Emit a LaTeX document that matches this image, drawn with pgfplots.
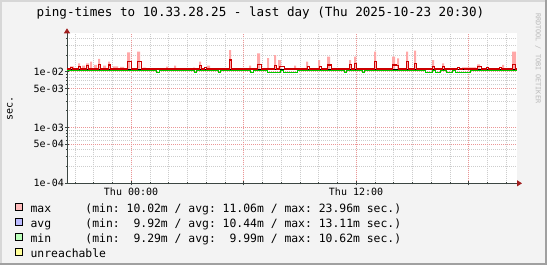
\documentclass[border=0pt]{standalone}
\usepackage{fontspec}
\setmainfont{DejaVu Sans Mono}
\setmonofont{DejaVu Sans Mono}
\usepackage{pgfplots}
\pgfplotsset{compat=1.18}
\usepackage{pgfplotstable}
\usetikzlibrary{arrows.meta}

\definecolor{bgcol}{RGB}{243,243,243}
\definecolor{shadea}{RGB}{215,215,215}
\definecolor{shadeb}{RGB}{160,160,160}
\definecolor{axiscol}{RGB}{60,70,66}
\definecolor{arrowcol}{RGB}{160,30,30}
\definecolor{gridcol}{RGB}{205,205,205}
\definecolor{mgridcol}{RGB}{235,150,150}
\definecolor{pinkcol}{RGB}{255,168,168}
\definecolor{redcol}{RGB}{204,0,0}
\definecolor{greencol}{RGB}{0,200,0}
\definecolor{maxleg}{RGB}{255,187,187}
\definecolor{avgleg}{RGB}{187,187,255}
\definecolor{minleg}{RGB}{187,255,187}
\definecolor{unrleg}{RGB}{255,255,153}

% max (pink spikes)
\pgfplotstableread{
x y
-3.4167 0.0112
-3.2533 0.0125
-3.04 0.0112
-2.8267 0.0141
-2.72 0.0112
-2.6133 0.0128
-2.4533 0.0112
-2.4 0.0141
-2.24 0.0112
-2.1867 0.0151
-2.08 0.0112
-1.9733 0.0132
-1.8133 0.0112
-1.76 0.0169
-1.6533 0.0112
-1.4933 0.0128
-1.3333 0.0112
-1.2267 0.0151
-1.12 0.0112
-0.96 0.0125
-0.6933 0.0112
-0.5867 0.0122
-0.3733 0.0112
-0.2133 0.0223
-0.0533 0.0112
0.32 0.0228
0.48 0.0112
0.64 0.0118
0.8 0.0112
1.8667 0.0123
1.9733 0.0112
2.2933 0.0128
2.4 0.0112
3.3067 0.0118
3.4133 0.0112
3.6267 0.0151
3.7333 0.0112
4.0533 0.0128
4.2133 0.0112
5.2267 0.0245
5.3333 0.0112
6.2933 0.0128
6.4 0.0112
6.72 0.0214
6.88 0.0112
7.2533 0.0176
7.36 0.0112
7.6267 0.0199
7.7333 0.0112
7.84 0.0162
8.0 0.0112
8.6933 0.0128
8.8 0.0112
9.3333 0.0151
9.44 0.0112
9.9733 0.0162
10.08 0.0112
10.4533 0.0186
10.6133 0.0112
11.6267 0.0162
11.7333 0.0112
11.8933 0.0186
12.0 0.0112
12.96 0.0228
13.0667 0.0112
13.92 0.0186
14.08 0.0112
14.1867 0.0174
14.2933 0.0112
14.6667 0.0228
14.7733 0.0112
15.0933 0.0240
15.2 0.0112
16.0533 0.0162
16.16 0.0112
16.5867 0.0141
16.6933 0.0112
17.6533 0.0120
18.4 0.0112
18.4533 0.0136
18.6133 0.0112
19.7867 0.0132
19.8933 0.0112
20.32 0.0228
20.5333 0.0112
20.5833 0.0112
}\maxdata

% dark red spikes
\pgfplotstableread{
x y
-3.4167 0.0112
-3.2533 0.0120
-3.1467 0.0112
-2.8267 0.0123
-2.72 0.0112
-2.4 0.0128
-2.2933 0.0112
-1.76 0.0136
-1.6533 0.0112
-1.2267 0.0132
-1.12 0.0112
-0.2133 0.0155
0 0.0112
0.32 0.0155
0.5333 0.0112
3.6267 0.0128
3.7333 0.0112
3.8933 0.0118
4.0 0.0112
5.2267 0.0162
5.3333 0.0112
6.72 0.0136
6.9333 0.0112
7.6267 0.0128
7.7333 0.0112
7.8933 0.0123
8.16 0.0112
9.3867 0.0123
9.4933 0.0112
10.0267 0.0126
10.1333 0.0112
10.4533 0.0132
10.6667 0.0112
11.6267 0.0136
11.7333 0.0112
11.8933 0.0141
12.0 0.0112
12.96 0.0151
13.0667 0.0112
13.92 0.0132
14.1333 0.0128
14.24 0.0112
14.6667 0.0151
14.7733 0.0112
15.0933 0.0141
15.2 0.0112
16.0533 0.0123
16.16 0.0112
16.5867 0.0123
16.6933 0.0112
17.3867 0.0118
17.4933 0.0112
17.6533 0.0115
17.76 0.0112
18.4533 0.0123
18.6667 0.0112
18.9333 0.0118
19.04 0.0112
19.6267 0.0118
19.7333 0.0112
20.32 0.0136
20.48 0.0112
20.5833 0.0112
}\reddata

% min (green)
\pgfplotstableread{
x y
-3.4167 0.0104
1.3333 0.0096
1.4933 0.0104
3.36 0.0096
3.4667 0.0104
4.64 0.0096
4.7467 0.0104
6.3467 0.0096
6.5067 0.0104
7.2533 0.0096
7.9467 0.0104
8.1067 0.0096
8.8533 0.0104
11.36 0.0096
11.4667 0.0104
12.32 0.0096
12.4267 0.0104
15.68 0.0096
16.0533 0.0104
16.2133 0.0096
16.48 0.0104
16.8 0.0096
17.12 0.0104
17.28 0.0096
18.08 0.0104
20.5833 0.0104
}\mindata

\begin{document}
\begin{tikzpicture}
\fill[bgcol] (0,0) rectangle (547pt,265pt);
\fill[shadea] (0,263pt) rectangle (545pt,265pt);
\fill[shadea] (0,2pt) rectangle (2pt,265pt);
\fill[shadeb] (545pt,0) rectangle (547pt,265pt);
\fill[shadeb] (0,0) rectangle (547pt,2pt);
\begin{axis}[
  scale only axis, width=450pt, height=150pt,
  at={(67pt,81.7pt)}, anchor=south west,
  ymode=log,
  xmin=-3.4167, xmax=20.5833, ymin=1e-4, ymax=0.0488,
  axis background/.style={fill=white},
  axis x line=bottom, axis y line=left,
  axis line style={draw=axiscol, line width=0.8pt},
  x axis line style={-{Triangle[length=5pt,width=6pt,color=arrowcol]}, shorten >=-5pt},
  y axis line style={-{Triangle[length=5pt,width=6pt,color=arrowcol]}, shorten >=-5pt},
  xtick={0,6,12,18}, xticklabels={Thu 00:00,,Thu 12:00,},
  minor xtick={-3,-2,...,20},
  ytick={1e-4,5e-4,1e-3,5e-3,1e-2},
  yticklabels={1e-04,5e-04,1e-03,5e-03,1e-02},
  minor ytick={2e-4,3e-4,4e-4,6e-4,7e-4,8e-4,9e-4,2e-3,3e-3,4e-3,6e-3,7e-3,8e-3,9e-3,2e-2,3e-2,4e-2},
  grid=both,
  major grid style={draw=mgridcol, dash pattern=on 1pt off 1pt, line width=0.6pt},
  minor grid style={draw=gridcol, dash pattern=on 1pt off 1pt, line width=0.6pt},
  tick style={draw=axiscol, line width=0.6pt},
  major tick length=4pt, minor tick length=2pt, tick align=center,
  ticklabel style={font=\fontsize{10}{12}\selectfont},
  yticklabel style={anchor=east, inner sep=0pt, xshift=-1pt},
  xticklabel style={anchor=north, inner sep=0pt, yshift=-2pt},
  ylabel={sec.},
  ylabel style={at={(axis description cs:-0.1267,0.5)}, anchor=center, font=\fontsize{10}{12}\selectfont},
  title={ping-times to 10.33.28.25 - last day (Thu 2025-10-23 20:30)},
  title style={at={(axis description cs:0.43,1.092)}, anchor=center, font=\fontsize{12.6}{15}\selectfont},
  legend image code/.code={\draw[#1, draw=black, line width=0.6pt] (0pt,-0.5pt) rectangle (7pt,6.5pt);},
  legend style={at={(axis description cs:-0.1156,-0.13)}, anchor=north west,
    draw=none, fill=none, inner sep=0pt, outer sep=0pt,
    font=\fontsize{11.4}{13}\selectfont,
    nodes={inner sep=0pt, text height=8.5pt, text depth=2.5pt},
    row sep=2.6pt, column sep=8pt},
  legend cell align=left,
]
\addplot[const plot, fill=pinkcol, draw=none, forget plot] table[x=x,y=y] {\maxdata};
\addplot[const plot, draw=greencol, line width=1.1pt, forget plot] table[x=x,y=y] {\mindata};
\addplot[draw=black, line width=1.1pt, forget plot] coordinates {(-3.4167,0.0108) (20.5833,0.0108)};
\addplot[const plot, draw=redcol, line width=1.1pt, forget plot] table[x=x,y=y] {\reddata};
\addlegendimage{fill=maxleg}
\addlegendentry{max~~~~~(min:~10.02m~/~avg:~11.06m~/~max:~23.96m~sec.)}
\addlegendimage{fill=avgleg}
\addlegendentry{avg~~~~~(min:~~9.92m~/~avg:~10.44m~/~max:~13.11m~sec.)}
\addlegendimage{fill=minleg}
\addlegendentry{min~~~~~(min:~~9.29m~/~avg:~~9.99m~/~max:~10.62m~sec.)}
\addlegendimage{fill=unrleg}
\addlegendentry{unreachable}
\end{axis}
\node[rotate=-90, anchor=west, inner sep=0pt, font=\fontsize{6.8}{8}\selectfont, text=gray!55] at (538pt,252pt) {RRDTOOL / TOBI OETIKER};
\pgfresetboundingbox
\path[use as bounding box] (0,0) rectangle (547pt,265pt);
\end{tikzpicture}
\end{document}
